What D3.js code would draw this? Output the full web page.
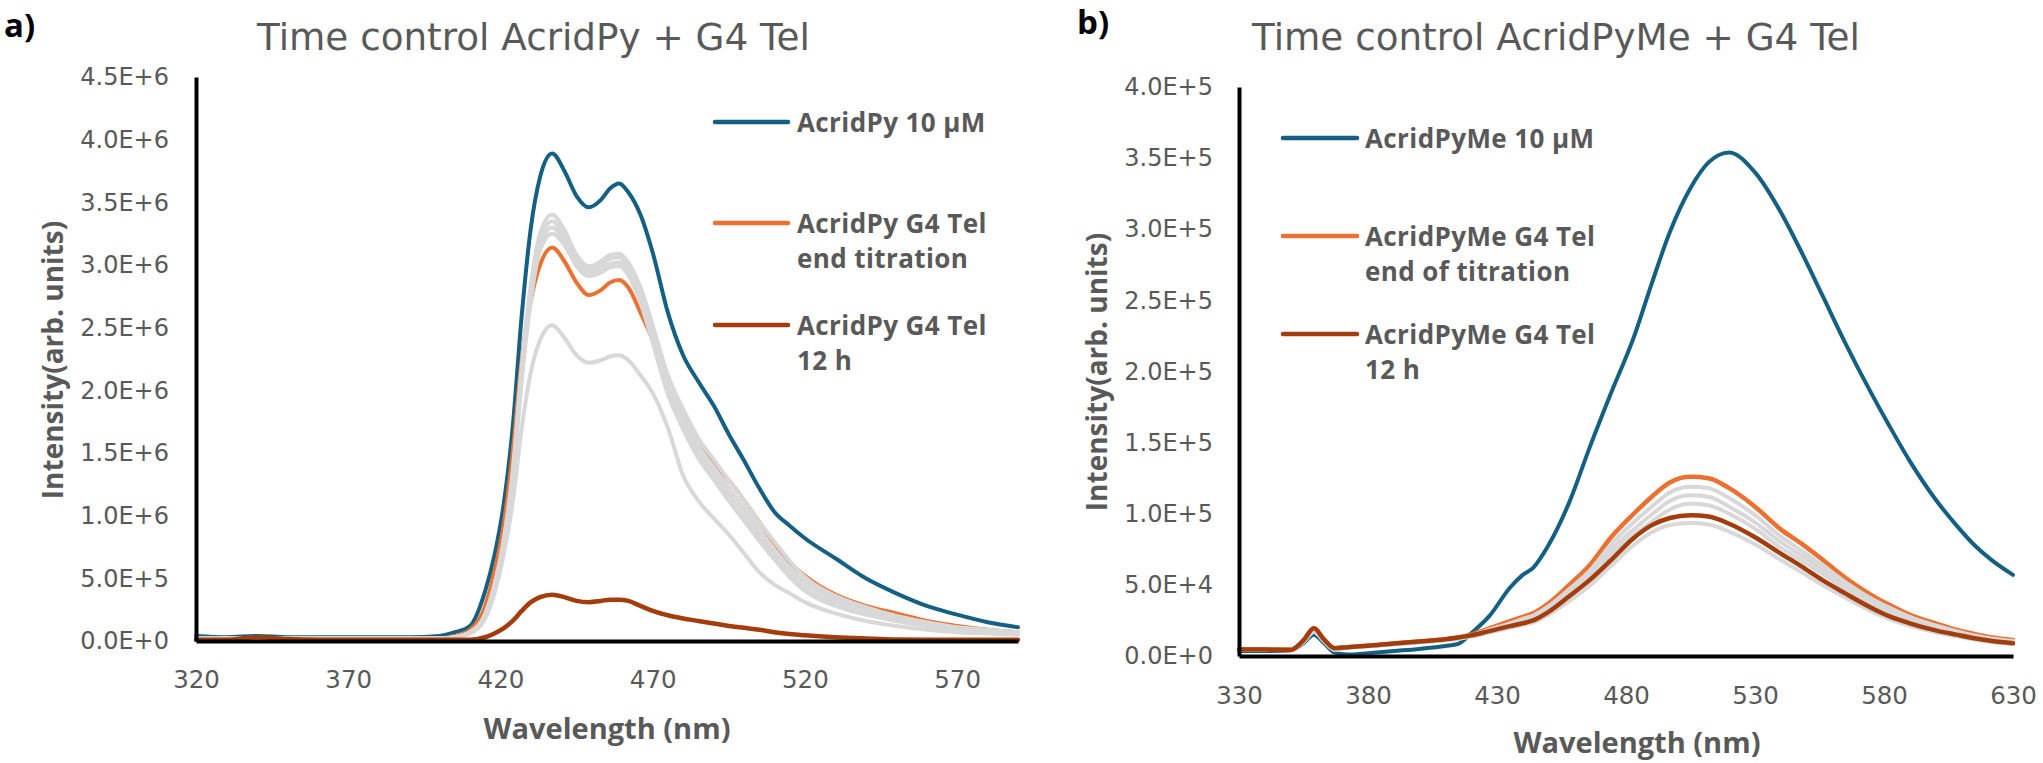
<!DOCTYPE html>
<html><head><meta charset="utf-8">
<script src="https://cdn.jsdelivr.net/npm/d3@7"></script>
<style>
html,body{margin:0;padding:0;background:#fff;}
svg{display:block;}
text{font-family:"Open Sans",sans-serif;}
</style></head>
<body>
<svg id="chart" width="2043" height="763"></svg>
<script>
// ---------- Panel a) data (intensity, units of 1e6) ----------
const leftWavelength = [320,330,340,350,360,370,380,390,400,405,410,415,418,421,424,427,430,433,437,441,445,449,453,456,459,462,466,470,475,480,485,490,495,500,505,510,515,520,530,540,550,560,570,580,590];
const leftBlue   = [0.04,0.03,0.04,0.03,0.03,0.03,0.03,0.03,0.04,0.07,0.12,0.40,0.68,1.08,1.70,2.60,3.30,3.70,3.89,3.75,3.55,3.46,3.52,3.61,3.65,3.58,3.40,3.10,2.62,2.28,2.07,1.88,1.65,1.44,1.22,1.03,0.92,0.82,0.66,0.50,0.38,0.28,0.21,0.15,0.11];
const leftOrange = [0.02,0.02,0.02,0.02,0.02,0.02,0.02,0.02,0.02,0.04,0.09,0.28,0.55,0.92,1.50,2.25,2.72,3.00,3.14,3.03,2.86,2.76,2.80,2.86,2.88,2.82,2.62,2.40,2.02,1.80,1.56,1.42,1.28,1.12,0.95,0.78,0.63,0.52,0.37,0.28,0.22,0.16,0.12,0.09,0.07];
const leftGrayA  = [0.02,0.02,0.02,0.02,0.02,0.02,0.02,0.02,0.02,0.03,0.07,0.22,0.45,0.80,1.35,2.20,2.85,3.25,3.40,3.28,3.08,2.99,3.03,3.08,3.09,3.02,2.82,2.52,2.12,1.85,1.62,1.45,1.28,1.12,0.95,0.79,0.64,0.51,0.36,0.27,0.20,0.15,0.11,0.09,0.07];
const leftGrayB  = [0.02,0.02,0.02,0.02,0.02,0.02,0.02,0.02,0.02,0.03,0.07,0.21,0.43,0.78,1.32,2.15,2.80,3.20,3.35,3.24,3.05,2.96,3.00,3.05,3.06,2.99,2.78,2.47,2.06,1.79,1.56,1.39,1.22,1.06,0.89,0.73,0.59,0.47,0.33,0.25,0.18,0.14,0.10,0.08,0.07];
const leftGrayC  = [0.02,0.02,0.02,0.02,0.02,0.02,0.02,0.02,0.02,0.03,0.07,0.21,0.42,0.76,1.30,2.12,2.76,3.16,3.30,3.20,3.02,2.94,2.97,3.01,3.02,2.95,2.74,2.43,2.02,1.74,1.51,1.34,1.17,1.01,0.84,0.69,0.55,0.43,0.30,0.22,0.17,0.13,0.10,0.08,0.06];
const leftGrayD  = [0.02,0.02,0.02,0.02,0.02,0.02,0.02,0.02,0.02,0.03,0.06,0.20,0.41,0.74,1.27,2.08,2.72,3.12,3.25,3.16,2.99,2.91,2.94,2.98,2.99,2.92,2.70,2.38,1.97,1.69,1.46,1.29,1.12,0.96,0.80,0.65,0.51,0.40,0.28,0.21,0.16,0.12,0.09,0.07,0.06];
const leftGrayE  = [0.02,0.02,0.02,0.02,0.02,0.02,0.02,0.02,0.02,0.03,0.06,0.18,0.38,0.68,1.10,1.70,2.15,2.40,2.52,2.42,2.28,2.22,2.24,2.27,2.28,2.24,2.12,1.98,1.70,1.32,1.12,0.98,0.85,0.70,0.55,0.45,0.38,0.31,0.22,0.16,0.12,0.09,0.07,0.06,0.05];
const leftBrown  = [0.01,0.01,0.03,0.015,0.01,0.01,0.01,0.01,0.01,0.01,0.01,0.03,0.06,0.10,0.16,0.24,0.31,0.35,0.37,0.35,0.32,0.31,0.32,0.33,0.33,0.32,0.28,0.24,0.205,0.18,0.16,0.14,0.12,0.105,0.09,0.07,0.055,0.045,0.03,0.02,0.012,0.01,0.01,0.01,0.01];
const leftXTicks = [320,370,420,470,520,570];
const leftYTicks = [0,0.5e6,1.0e6,1.5e6,2.0e6,2.5e6,3.0e6,3.5e6,4.0e6,4.5e6];
const leftLegend = [["AcridPy 10 μM"],["AcridPy G4 Tel","end titration"],["AcridPy G4 Tel","12 h"]];

// ---------- Panel b) data (intensity, units of 1e4) ----------
const rightWavelength = [330,340,350,355,359,363,367,372,380,390,400,410,415,420,427,435,440,444,450,458,466,474,483,490,497,505,512,520,530,540,548,556,565,575,582,590,600,608,615,622,630];
const rightBlue   = [0.35,0.35,0.40,0.90,1.50,0.90,0.25,0.10,0.20,0.35,0.50,0.70,0.85,1.60,2.80,4.80,5.70,6.20,7.80,10.8,14.7,18.4,22.4,26.2,29.8,32.9,34.7,35.4,34.0,31.2,28.4,25.4,22.0,18.5,16.2,13.7,11.0,9.2,7.8,6.7,5.7];
const rightOrange = [0.45,0.45,0.45,1.10,1.95,1.15,0.55,0.62,0.72,0.88,1.02,1.18,1.30,1.50,1.95,2.45,2.75,3.00,3.70,5.00,6.40,8.30,10.0,11.2,12.2,12.6,12.5,11.8,10.5,8.9,7.9,6.8,5.5,4.3,3.6,2.9,2.3,1.85,1.55,1.30,1.12];
const rightGrayA  = [0.42,0.42,0.42,1.00,1.70,1.05,0.45,0.60,0.70,0.85,1.00,1.15,1.25,1.45,1.85,2.30,2.60,2.85,3.50,4.70,6.00,7.80,9.40,10.5,11.5,11.9,11.8,11.1,9.9,8.4,7.4,6.4,5.2,4.05,3.4,2.75,2.15,1.75,1.45,1.22,1.05];
const rightGrayB  = [0.42,0.42,0.42,1.00,1.70,1.05,0.45,0.60,0.70,0.84,0.98,1.13,1.23,1.42,1.80,2.22,2.50,2.72,3.35,4.45,5.70,7.40,8.90,9.95,10.9,11.3,11.2,10.5,9.4,8.0,7.05,6.1,4.95,3.85,3.25,2.62,2.05,1.68,1.40,1.18,1.02];
const rightGrayC  = [0.42,0.42,0.42,1.00,1.70,1.05,0.45,0.60,0.70,0.83,0.97,1.12,1.22,1.40,1.76,2.16,2.42,2.62,3.22,4.25,5.45,7.05,8.50,9.45,10.3,10.7,10.6,10.0,8.95,7.6,6.7,5.8,4.7,3.68,3.1,2.5,1.96,1.60,1.33,1.12,0.97];
const rightGrayD  = [0.42,0.42,0.42,1.00,1.70,1.05,0.45,0.60,0.70,0.83,0.96,1.10,1.20,1.36,1.65,1.98,2.18,2.36,2.90,3.85,4.95,6.30,7.80,8.70,9.20,9.35,9.25,8.75,7.85,6.75,5.9,5.0,4.1,3.15,2.6,2.12,1.66,1.38,1.15,0.97,0.84];
const rightBrown  = [0.45,0.45,0.42,1.10,1.95,1.15,0.55,0.62,0.72,0.88,1.02,1.18,1.30,1.45,1.75,2.10,2.30,2.50,3.10,4.20,5.35,6.70,8.30,9.20,9.70,9.90,9.80,9.30,8.35,7.2,6.3,5.35,4.4,3.4,2.8,2.3,1.8,1.5,1.25,1.05,0.9];
const rightXTicks = [330,380,430,480,530,580,630];
const rightYTicks = [0,0.5e5,1.0e5,1.5e5,2.0e5,2.5e5,3.0e5,3.5e5,4.0e5];
const rightLegend = [["AcridPyMe 10 μM"],["AcridPyMe G4 Tel","end of titration"],["AcridPyMe G4 Tel","12 h"]];

// ---------- styles ----------
const BLUE = "#156082", ORANGE = "#E97132", BROWN = "#A33D0E", GRAY = "#D8D8D8";
const TXT = "#595959";
const TICK_FONT = "'DejaVu Sans',sans-serif";
const BOLD_FONT = "'Open Sans',sans-serif";

const svg = d3.select("#chart");

function sci(v){
  if (v === 0) return "0.0E+0";
  const e = Math.floor(Math.log10(v) + 1e-9);
  const m = v / Math.pow(10, e);
  return m.toFixed(1) + "E+" + e;
}

function panel(cfg){
  const g = svg.append("g");
  const x = d3.scaleLinear().domain(cfg.xDomain).range(cfg.xRange);
  const y = d3.scaleLinear().domain(cfg.yDomain).range(cfg.yRange);
  const line = d3.line().x(d => x(d[0])).y(d => y(d[1])).curve(d3.curveMonotoneX);

  // series
  cfg.series.forEach(s => {
    const pts = cfg.wl.map((w,i) => [w, s.values[i] * cfg.unit]);
    g.append("path").attr("d", line(pts)).attr("fill","none")
      .attr("stroke", s.color).attr("stroke-width", s.width)
      .attr("stroke-linejoin","round").attr("stroke-linecap","round");
  });

  // axes
  const ya = d3.axisLeft(y).tickValues(cfg.yTicks).tickFormat(sci).tickSize(0).tickPadding(cfg.yPad);
  const xa = d3.axisBottom(x).tickValues(cfg.xTicks).tickFormat(d3.format("d")).tickSize(0).tickPadding(cfg.xPad);
  const gy = g.append("g").attr("transform",`translate(${cfg.xRange[0]},0)`).call(ya);
  const gx = g.append("g").attr("transform",`translate(0,${cfg.yRange[0]})`).call(xa);
  [gy,gx].forEach(a => a.select(".domain").attr("stroke","#000").attr("stroke-width",4));
  gy.selectAll("text").attr("fill",TXT).style("font-size","24px").style("font-family",TICK_FONT);
  gx.selectAll("text").attr("fill",TXT).style("font-size","24.5px").style("font-family",TICK_FONT);

  // axis titles
  g.append("text").attr("x", cfg.xLabelPos[0]).attr("y", cfg.xLabelPos[1])
    .attr("text-anchor","middle").attr("fill",TXT)
    .style("font-family",BOLD_FONT).style("font-size","29px").style("font-weight","700")
    .text("Wavelength (nm)");
  g.append("text").attr("transform",`translate(${cfg.yLabelPos[0]},${cfg.yLabelPos[1]}) rotate(-90)`)
    .attr("text-anchor","middle").attr("fill",TXT)
    .style("font-family",BOLD_FONT).style("font-size","28px").style("font-weight","700")
    .attr("dy","0.35em").text("Intensity(arb. units)");

  // title
  g.append("text").attr("x", cfg.titlePos[0]).attr("y", cfg.titlePos[1])
    .attr("fill",TXT).style("font-family",TICK_FONT).style("font-size","37.3px").text(cfg.title);

  // panel letter
  g.append("text").attr("x", cfg.letterPos[0]).attr("y", cfg.letterPos[1])
    .attr("fill","#000").style("font-family",BOLD_FONT)
    .style("font-size","33px").style("font-weight","700").text(cfg.letter);

  // legend
  const leg = g.append("g");
  cfg.legend.forEach((lines, i) => {
    const ly = cfg.legendY[i];
    leg.append("line").attr("x1", cfg.legendX[0]).attr("x2", cfg.legendX[1])
      .attr("y1", ly).attr("y2", ly).attr("stroke", cfg.legendColors[i]).attr("stroke-width",4.5)
      .attr("stroke-linecap","round");
    lines.forEach((t, j) => {
      leg.append("text").attr("x", cfg.legendX[2]).attr("y", ly + 10 + j*35)
        .attr("fill",TXT).style("font-family",BOLD_FONT).style("font-size","26px")
        .style("font-weight","700").style("letter-spacing","0.4px").text(t);
    });
  });
}

const grayW = 4;
panel({
  wl: leftWavelength, unit: 1e6,
  xDomain: [320, 590], xRange: [196, 1018],
  yDomain: [0, 4.5e6], yRange: [641, 77],
  xTicks: leftXTicks, yTicks: leftYTicks, yPad: 27, xPad: 30,
  series: [
    {values: leftBlue, color: BLUE, width: 4},
    {values: leftOrange, color: ORANGE, width: 4},
    {values: leftGrayE, color: GRAY, width: grayW},
    {values: leftGrayD, color: GRAY, width: grayW},
    {values: leftGrayC, color: GRAY, width: grayW},
    {values: leftGrayB, color: GRAY, width: grayW},
    {values: leftGrayA, color: GRAY, width: grayW},
    {values: leftBrown, color: BROWN, width: 4.5}
  ],
  xLabelPos: [607, 739], yLabelPos: [53, 360],
  title: "Time control AcridPy + G4 Tel", titlePos: [257, 50],
  letter: "a)", letterPos: [4, 37],
  legend: leftLegend, legendY: [122, 223, 325], legendX: [715, 788, 797],
  legendColors: [BLUE, ORANGE, BROWN]
});

panel({
  wl: rightWavelength, unit: 1e4,
  xDomain: [330, 630], xRange: [1239, 2013],
  yDomain: [0, 4e5], yRange: [656, 87],
  xTicks: rightXTicks, yTicks: rightYTicks, yPad: 26, xPad: 31,
  series: [
    {values: rightBlue, color: BLUE, width: 4},
    {values: rightOrange, color: ORANGE, width: 4.5},
    {values: rightGrayD, color: GRAY, width: grayW},
    {values: rightGrayC, color: GRAY, width: grayW},
    {values: rightGrayB, color: GRAY, width: grayW},
    {values: rightGrayA, color: GRAY, width: grayW},
    {values: rightBrown, color: BROWN, width: 4.5}
  ],
  xLabelPos: [1637, 753], yLabelPos: [1097, 372],
  title: "Time control AcridPyMe + G4 Tel", titlePos: [1252, 50],
  letter: "b)", letterPos: [1077, 34],
  legend: rightLegend, legendY: [138, 236, 334], legendX: [1283, 1357, 1365],
  legendColors: [BLUE, ORANGE, BROWN]
});
</script>
</body></html>
